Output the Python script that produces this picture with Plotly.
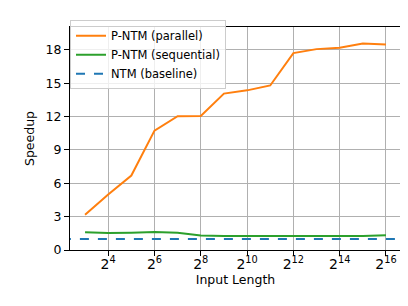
import math
import plotly.graph_objects as go

exponents = [3, 4, 5, 6, 7, 8, 9, 10, 11, 12, 13, 14, 15, 16]
input_length = [2 ** e for e in exponents]
parallel = [3.18, 5.0, 6.7, 10.74, 12.04, 12.06, 14.07, 14.36, 14.8, 17.71, 18.07, 18.2, 18.57, 18.48]
sequential = [1.59, 1.53, 1.56, 1.62, 1.56, 1.3, 1.26, 1.25, 1.24, 1.26, 1.25, 1.25, 1.26, 1.32]
baseline = 1.0
tick_exps = [4, 6, 8, 10, 12, 14, 16]
yticks = [0, 3, 6, 9, 12, 15, 18]

font = "DejaVu Sans"
fig = go.Figure()
fig.add_trace(go.Scatter(x=input_length, y=parallel, mode="lines", name="P-NTM (parallel)",
                         line=dict(color="#ff7f0e", width=2)))
fig.add_trace(go.Scatter(x=input_length, y=sequential, mode="lines", name="P-NTM (sequential)",
                         line=dict(color="#2ca02c", width=2)))
fig.add_trace(go.Scatter(x=[2 ** 2.0, 2 ** 17.0], y=[baseline, baseline], mode="lines", name="NTM (baseline)",
                         line=dict(color="#1f77b4", width=2, dash="dash")))

fig.update_layout(
    width=408, height=306,
    margin=dict(l=62, r=15, t=14, b=64),
    paper_bgcolor="white", plot_bgcolor="white",
    font=dict(family=font, size=12, color="black"),
    showlegend=True,
    legend=dict(x=0.0, y=1.03, xanchor="left", yanchor="top",
                bgcolor="rgba(255,255,255,0.8)", bordercolor="#cccccc", borderwidth=1,
                font=dict(size=11.5, family=font), tracegroupgap=0, itemwidth=30),
    xaxis=dict(type="log", range=[2.35 * math.log10(2), 16.65 * math.log10(2)],
               tickvals=[2 ** e for e in tick_exps],
               ticktext=[f"2<sup>{e}</sup>" for e in tick_exps],
               showgrid=True, gridcolor="#b0b0b0", gridwidth=1,
               showline=True, linecolor="black", linewidth=1, mirror=True,
               ticks="outside", ticklen=5, tickcolor="black", tickfont=dict(size=14),
               ticklabelstandoff=-4,
               title=dict(text="Input Length", font=dict(size=12.5), standoff=0),
               zeroline=False),
    yaxis=dict(range=[0, 20.06], tickvals=yticks,
               showgrid=True, gridcolor="#b0b0b0", gridwidth=1,
               showline=True, linecolor="black", linewidth=1, mirror=True,
               ticks="outside", ticklen=5, tickcolor="black", tickfont=dict(size=12.5),
               title=dict(text="Speedup", font=dict(size=12.5), standoff=8),
               zeroline=False),
)
fig.write_html("out.html")
